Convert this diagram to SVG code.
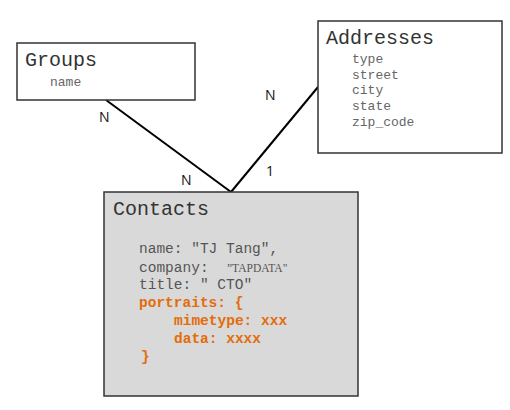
<svg xmlns="http://www.w3.org/2000/svg" width="510" height="410" viewBox="0 0 510 410">
<style>
.box{fill:#fff;stroke:#333;stroke-width:1.5}
.title{font-family:"Liberation Mono",monospace;font-size:20px;fill:#333}
.attr{font-family:"Liberation Mono",monospace;font-size:13px;fill:#666}
.cattr{font-family:"Liberation Mono",monospace;font-size:14.5px;fill:#555}
.orange{font-family:"Liberation Mono",monospace;font-size:14.5px;font-weight:bold;fill:#e46c0a}
.card{font-family:"Open Sans","Liberation Sans",sans-serif;font-size:14px;fill:#111}
.conn{stroke:#000;stroke-width:2;fill:none}
</style>
<rect width="510" height="410" fill="#fff"/>
<g id="connectors">
<line class="conn" x1="106" y1="100" x2="231" y2="192"/>
<line class="conn" x1="231" y1="192" x2="318" y2="87"/>
<text class="card" x="99" y="122">N</text>
<text class="card" x="181" y="185">N</text>
<text class="card" x="266" y="176">1</text>
<text class="card" x="265" y="100">N</text>
</g>
<g id="groups">
<rect class="box" x="17" y="43" width="178" height="57"/>
<text class="title" x="25" y="66">Groups</text>
<text class="attr" x="50" y="86">name</text>
</g>
<g id="addresses">
<rect class="box" x="318" y="21" width="184" height="132"/>
<text class="title" x="326" y="44">Addresses</text>
<text class="attr" x="352" y="63">type</text>
<text class="attr" x="352" y="79">street</text>
<text class="attr" x="352" y="94">city</text>
<text class="attr" x="352" y="110">state</text>
<text class="attr" x="352" y="126">zip_code</text>
</g>
<g id="contacts">
<rect x="104" y="192" width="254" height="204" fill="#d9d9d9" stroke="#333" stroke-width="1.5"/>
<text class="title" x="113" y="215">Contacts</text>
<text class="cattr" x="139" y="253">name: "TJ Tang",</text>
<text class="cattr" x="139" y="272">company: <tspan x="227" font-family="Liberation Serif,serif" font-size="11.5px">”TAPDATA"</tspan></text>
<text class="cattr" x="139" y="289">title: " CTO"</text>
<text class="orange" x="139" y="307">portraits: {</text>
<text class="orange" x="174" y="325">mimetype: xxx</text>
<text class="orange" x="174" y="343">data: xxxx</text>
<text class="orange" x="141" y="361">}</text>
</g>
</svg>
